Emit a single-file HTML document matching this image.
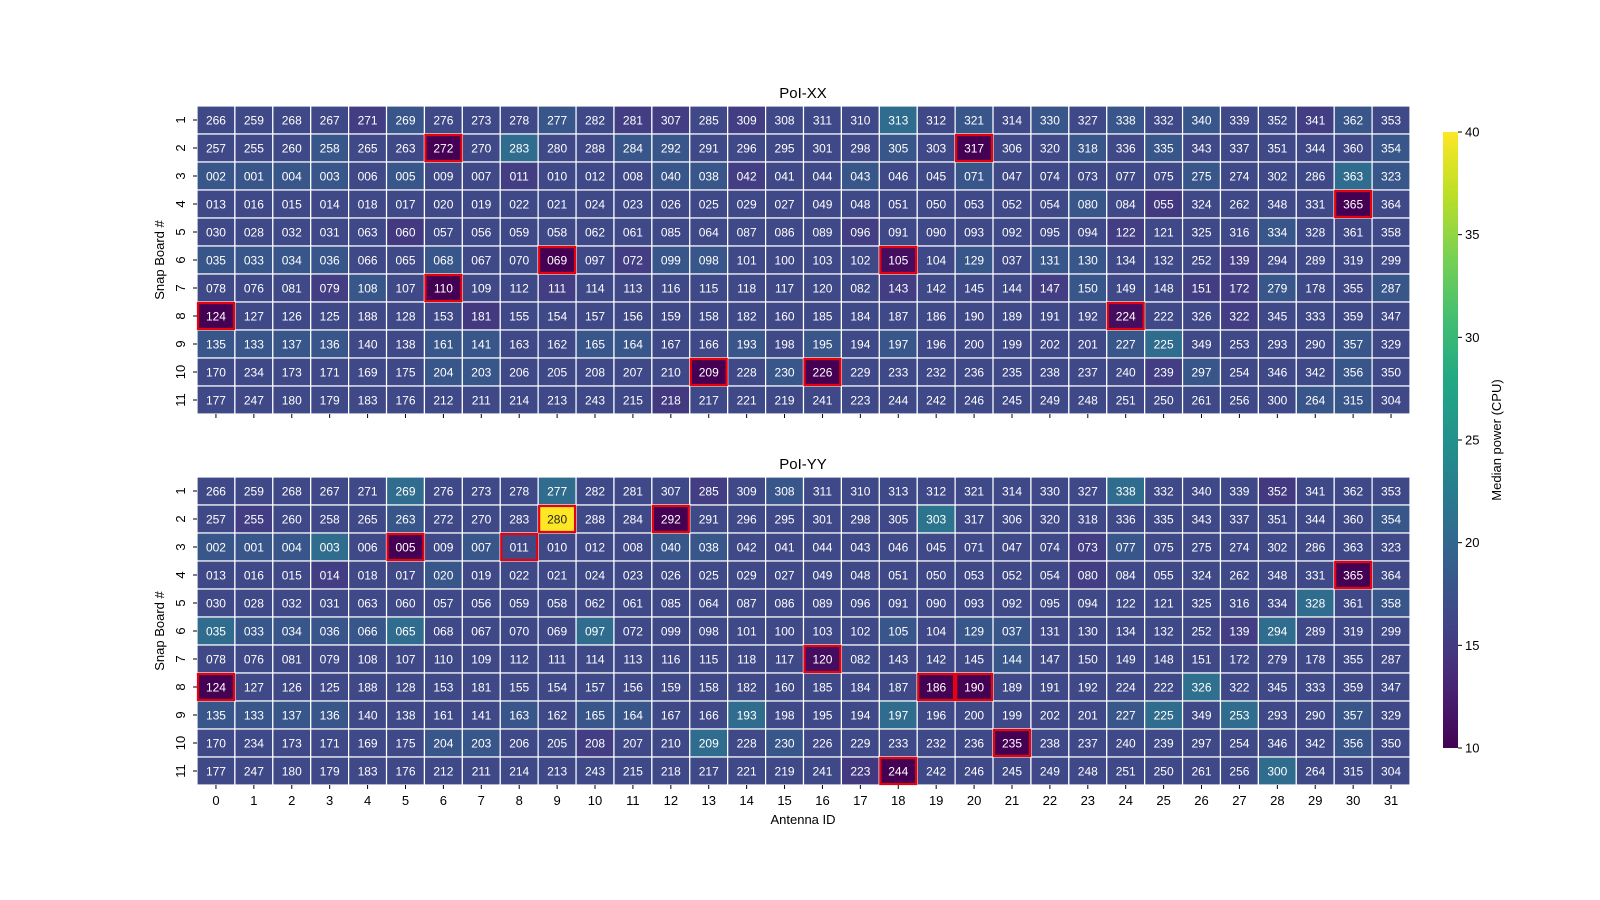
<!DOCTYPE html>
<html><head><meta charset="utf-8">
<style>
html,body{margin:0;padding:0;background:#fff;overflow:hidden;width:1600px;height:900px;}
svg{display:block;}
svg text{font-family:"Liberation Sans","DejaVu Sans",sans-serif;}
</style></head>
<body>
<svg id="fig" width="1600" height="900" viewBox="0 0 1600 900" xmlns="http://www.w3.org/2000/svg">
<rect width="1600" height="900" fill="#fff"/>
<g id="g-xx"></g>
<g id="g-yy"></g>
<g id="g-cb"></g>
<text x="803" y="98" text-anchor="middle" font-size="15">PoI-XX</text>
<text x="803" y="469" text-anchor="middle" font-size="15">PoI-YY</text>
<text transform="translate(164,260) rotate(-90)" text-anchor="middle" font-size="13">Snap Board #</text>
<text transform="translate(164,631) rotate(-90)" text-anchor="middle" font-size="13">Snap Board #</text>
<text x="803" y="824" text-anchor="middle" font-size="13">Antenna ID</text>
<text transform="translate(1501,440) rotate(-90)" text-anchor="middle" font-size="13">Median power (CPU)</text>
</svg>
<script>
const antennaIds = ["0","1","2","3","4","5","6","7","8","9","10","11","12","13","14","15","16","17","18","19","20","21","22","23","24","25","26","27","28","29","30","31"];
const snapBoards = ["1","2","3","4","5","6","7","8","9","10","11"];
const cbTicks = [10,15,20,25,30,35,40];
const cellLabels = [
["266","259","268","267","271","269","276","273","278","277","282","281","307","285","309","308","311","310","313","312","321","314","330","327","338","332","340","339","352","341","362","353"],
["257","255","260","258","265","263","272","270","283","280","288","284","292","291","296","295","301","298","305","303","317","306","320","318","336","335","343","337","351","344","360","354"],
["002","001","004","003","006","005","009","007","011","010","012","008","040","038","042","041","044","043","046","045","071","047","074","073","077","075","275","274","302","286","363","323"],
["013","016","015","014","018","017","020","019","022","021","024","023","026","025","029","027","049","048","051","050","053","052","054","080","084","055","324","262","348","331","365","364"],
["030","028","032","031","063","060","057","056","059","058","062","061","085","064","087","086","089","096","091","090","093","092","095","094","122","121","325","316","334","328","361","358"],
["035","033","034","036","066","065","068","067","070","069","097","072","099","098","101","100","103","102","105","104","129","037","131","130","134","132","252","139","294","289","319","299"],
["078","076","081","079","108","107","110","109","112","111","114","113","116","115","118","117","120","082","143","142","145","144","147","150","149","148","151","172","279","178","355","287"],
["124","127","126","125","188","128","153","181","155","154","157","156","159","158","182","160","185","184","187","186","190","189","191","192","224","222","326","322","345","333","359","347"],
["135","133","137","136","140","138","161","141","163","162","165","164","167","166","193","198","195","194","197","196","200","199","202","201","227","225","349","253","293","290","357","329"],
["170","234","173","171","169","175","204","203","206","205","208","207","210","209","228","230","226","229","233","232","236","235","238","237","240","239","297","254","346","342","356","350"],
["177","247","180","179","183","176","212","211","214","213","243","215","218","217","221","219","241","223","244","242","246","245","249","248","251","250","261","256","300","264","315","304"]
];
const xxValues = [
[16.5,16.5,16.5,16.5,15.3,18,16.5,16.5,16.5,18,16.5,15.3,15.3,16.5,15.3,16.5,16.5,16.5,20.5,16.5,18,16.5,18,16.5,18,16.5,18,16.5,16.5,15.3,18,16.5],
[16.5,16.5,16.5,18,16.5,16.5,10,16.5,20.5,16.5,16.5,18,18,16.5,16.5,16.5,16.5,16.5,18,16.5,10,16.5,16.5,18,16.5,18,16.5,16.5,16.5,16.5,16.5,18],
[18,18,18,18,16.5,18,16.5,16.5,15.3,16.5,16.5,16.5,18,18,15.3,16.5,16.5,18,16.5,16.5,18,16.5,16.5,16.5,16.5,16.5,18,16.5,16.5,16.5,20.5,18],
[16.5,16.5,16.5,16.5,16.5,16.5,16.5,16.5,16.5,16.5,16.5,16.5,16.5,16.5,16.5,16.5,16.5,16.5,16.5,16.5,16.5,16.5,16.5,18,16.5,15,16.5,16.5,16.5,16.5,10,16.5],
[16.5,16.5,16.5,16.5,16.5,15,16.5,16.5,16.5,16.5,16.5,16.5,16.5,16.5,16.5,16.5,16.5,15.3,16.5,16.5,16.5,16.5,16.5,16.5,15.3,16.5,16.5,16.5,18,16.5,16.5,16.5],
[18,18,18,18,16.5,16.5,18,16.5,16.5,10,16.5,15.3,18,18,16.5,16.5,16.5,16.5,11,16.5,18,16.5,18,18,16.5,16.5,16.5,15.3,16.5,16.5,16.5,16.5],
[16.5,16.5,16.5,15.3,18,16.5,10,16.5,16.5,15.3,16.5,16.5,16.5,16.5,16.5,16.5,16.5,16.5,15.3,16.5,16.5,16.5,15.3,18,16.5,16.5,15.3,15.3,18,16.5,16.5,18],
[10,16.5,16.5,16.5,16.5,16.5,16.5,15,16.5,16.5,16.5,16.5,16.5,16.5,16.5,16.5,16.5,16.5,16.5,16.5,16.5,16.5,16.5,16.5,11,16.5,16.5,15.3,16.5,16.5,16.5,16.5],
[18,18,18,18,16.5,16.5,18,18,16.5,16.5,18,18,16.5,16.5,18,16.5,18,16.5,18,16.5,16.5,16.5,16.5,16.5,18,20.5,16.5,16.5,16.5,16.5,18,16.5],
[16.5,16.5,16.5,16.5,16.5,16.5,18,18,16.5,16.5,16.5,16.5,16.5,10,16.5,18,10,16.5,16.5,16.5,16.5,16.5,16.5,16.5,16.5,15.3,18,16.5,16.5,16.5,18,16.5],
[16.5,16.5,16.5,16.5,16.5,16.5,16.5,16.5,16.5,16.5,16.5,16.5,15,16.5,16.5,16.5,16.5,16.5,16.5,16.5,16.5,16.5,16.5,16.5,16.5,16.5,16.5,16.5,16.5,18,18,16.5]
];
const yyValues = [
[16.5,16.5,16.5,16.5,16.5,20.5,16.5,16.5,16.5,20.5,16.5,16.5,16.5,15.3,16.5,18,16.5,16.5,16.5,16.5,16.5,16.5,16.5,16.5,20.5,16.5,16.5,16.5,15,16.5,16.5,16.5],
[16.5,15.3,16.5,16.5,16.5,18,16.5,16.5,16.5,40,16.5,16.5,10,16.5,16.5,16.5,16.5,16.5,16.5,21.5,16.5,16.5,16.5,16.5,16.5,16.5,16.5,16.5,16.5,16.5,16.5,18],
[18,18,18,20.5,16.5,10,16.5,18,16.5,16.5,16.5,16.5,18,18,16.5,16.5,16.5,16.5,16.5,16.5,16.5,16.5,16.5,15.3,18,16.5,16.5,16.5,16.5,16.5,16.5,16.5],
[16.5,16.5,16.5,15.3,16.5,16.5,18,16.5,16.5,16.5,16.5,16.5,16.5,16.5,16.5,16.5,16.5,16.5,16.5,16.5,16.5,16.5,16.5,15.3,16.5,16.5,16.5,16.5,16.5,16.5,10,16.5],
[16.5,16.5,16.5,16.5,16.5,16.5,16.5,16.5,16.5,16.5,16.5,16.5,16.5,16.5,16.5,16.5,16.5,16.5,16.5,16.5,16.5,16.5,16.5,16.5,16.5,16.5,16.5,16.5,16.5,20.5,16.5,18],
[20.5,18,18,18,18,20.5,16.5,16.5,16.5,16.5,20.5,16.5,16.5,16.5,16.5,16.5,16.5,16.5,18,16.5,18,18,16.5,16.5,16.5,16.5,16.5,15.3,20.5,16.5,16.5,16.5],
[16.5,16.5,16.5,16.5,16.5,16.5,16.5,16.5,16.5,16.5,16.5,16.5,16.5,16.5,16.5,16.5,11,16.5,16.5,16.5,16.5,18,16.5,16.5,16.5,16.5,16.5,16.5,16.5,16.5,16.5,16.5],
[10,16.5,16.5,16.5,16.5,16.5,16.5,16.5,16.5,16.5,16.5,16.5,16.5,16.5,16.5,16.5,16.5,16.5,16.5,10,10,16.5,16.5,16.5,16.5,16.5,21,16.5,16.5,16.5,16.5,16.5],
[18,18,18,18,16.5,16.5,16.5,16.5,18,16.5,18,18,16.5,16.5,20.5,16.5,16.5,16.5,20.5,16.5,16.5,16.5,16.5,16.5,18,20.5,16.5,20.5,16.5,16.5,18,16.5],
[16.5,16.5,16.5,16.5,16.5,16.5,18,18,16.5,16.5,15.3,16.5,16.5,20.5,16.5,18,16.5,16.5,16.5,16.5,16.5,10,16.5,16.5,16.5,16.5,16.5,16.5,16.5,16.5,18,16.5],
[16.5,16.5,16.5,16.5,16.5,16.5,16.5,16.5,16.5,16.5,16.5,16.5,16.5,16.5,16.5,16.5,16.5,15,10,16.5,16.5,16.5,16.5,16.5,16.5,16.5,16.5,16.5,20.5,16.5,16.5,16.5]
];
const xxFlagged = [[1,6],[1,20],[3,30],[5,9],[5,18],[6,6],[7,0],[7,24],[9,13],[9,16]];
const yyFlagged = [[1,9],[1,12],[2,5],[2,8],[3,30],[6,16],[7,0],[7,19],[7,20],[9,21],[10,18]];

const NS="http://www.w3.org/2000/svg";
const VMIN=10, VMAX=40;
const VIR=[[68,1,84],[72,36,117],[65,68,135],[53,95,141],[42,120,142],[33,145,140],[34,168,132],[68,191,112],[122,209,81],[189,223,38],[253,231,37]];
function viridis(v){let t=Math.max(0,Math.min(1,(v-VMIN)/(VMAX-VMIN)))*(VIR.length-1);let i=Math.min(Math.floor(t),VIR.length-2),f=t-i;const c=VIR[i].map((a,k)=>Math.round(a+(VIR[i+1][k]-a)*f));return `rgb(${c[0]},${c[1]},${c[2]})`;}
const X0=197, X1=1410;
const cw=(X1-X0)/antennaIds.length;
function xPos(i){return X0+i*cw;}
function mk(tag,attrs,parent){const e=document.createElementNS(NS,tag);for(const k in attrs)e.setAttribute(k,attrs[k]);parent.appendChild(e);return e;}

function drawHeat(gid,y0,y1,vals,flags,showXLabels){
  const g=document.getElementById(gid);
  const ch=(y1-y0)/snapBoards.length;
  const yPos=r=>y0+r*ch;
  for(let r=0;r<snapBoards.length;r++){
    for(let c=0;c<antennaIds.length;c++){
      const v=vals[r][c];
      const rc=mk('rect',{x:xPos(c),y:yPos(r),width:cw,height:ch,fill:viridis(v),stroke:'#fff','stroke-width':1.2},g);
      
      
      const tx=mk('text',{x:xPos(c)+cw/2,y:yPos(r)+ch/2+4.3,'text-anchor':'middle','font-size':12,fill:(v>30?'#262626':'#fff')},g);
      tx.textContent=cellLabels[r][c];
      
      
    }
  }
  flags.forEach(([r,c])=>{
    const fr=mk('rect',{x:xPos(c)+1,y:yPos(r)+1,width:cw-2,height:ch-2,fill:'none',stroke:'#e8000b','stroke-width':2.2},g);
    
    
  });
  for(let r=0;r<snapBoards.length;r++){
    const cy=yPos(r)+ch/2;
    mk('line',{x1:X0-4,x2:X0,y1:cy,y2:cy,stroke:'#000','stroke-width':1},g);
    const t=mk('text',{transform:`translate(${X0-12},${cy}) rotate(-90)`,'text-anchor':'middle','font-size':13},g);
    t.textContent=snapBoards[r];
    
    
  }
  for(let c=0;c<antennaIds.length;c++){
    const cx=xPos(c)+cw/2;
    mk('line',{x1:cx,x2:cx,y1:y1,y2:y1+4,stroke:'#000','stroke-width':1},g);
    if(showXLabels){
      const t=mk('text',{x:cx,y:y1+20,'text-anchor':'middle','font-size':13},g);
      t.textContent=antennaIds[c];
      
      
    }
  }
}
drawHeat('g-xx',106,414,xxValues,xxFlagged,false);
drawHeat('g-yy',477,785,yyValues,yyFlagged,true);

(function(){
  const g=document.getElementById('g-cb');
  const cx=1443,cwid=15,cy0=132,cy1=748;
  const defs=mk('defs',{},g);
  const lg=mk('linearGradient',{id:'vg',x1:0,y1:1,x2:0,y2:0},defs);
  for(let i=0;i<=20;i++){const v=VMIN+(VMAX-VMIN)*i/20;mk('stop',{offset:(i/20),'stop-color':viridis(v)},lg);}
  const bar=mk('rect',{x:cx,y:cy0,width:cwid,height:cy1-cy0,fill:'url(#vg)'},g);
  
  
  const yv=v=>cy1-(v-VMIN)/(VMAX-VMIN)*(cy1-cy0);
  cbTicks.forEach(v=>{
    mk('line',{x1:cx+cwid,x2:cx+cwid+4,y1:yv(v),y2:yv(v),stroke:'#000'},g);
    const t=mk('text',{x:cx+cwid+7,y:yv(v)+4.5,'font-size':13},g);
    t.textContent=v;
    
    
  });
})();
</script>
</body></html>
